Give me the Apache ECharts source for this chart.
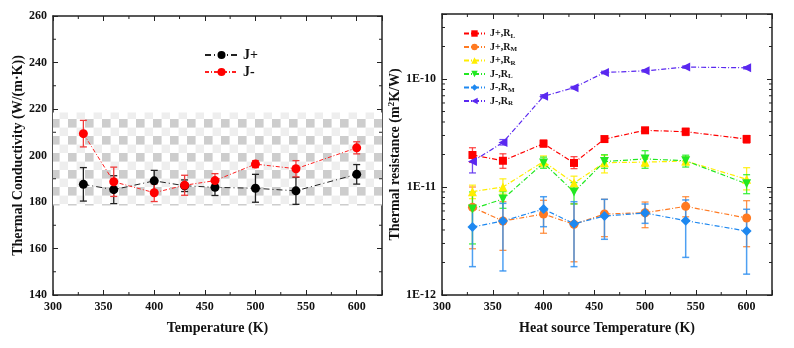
<!DOCTYPE html>
<html>
<head>
<meta charset="utf-8">
<script src="https://cdn.jsdelivr.net/npm/echarts@6/dist/echarts.min.js"></script>
<style>
  html, body { margin: 0; padding: 0; background: #fff; }
  #chart { width: 794px; height: 348px; }
</style>
</head>
<body>
<div id="chart"></div>
<script>
// ---- Thermal conductivity (left panel) ----
const temps = [330, 360, 400, 430, 460, 500, 540, 600];
const kPlus = [187.6, 185.3, 189.1, 187.0, 186.3, 185.9, 184.8, 191.9];
const kPlusErr = [7.2, 6.0, 4.5, 2.5, 3.5, 6.0, 5.8, 4.2];
const kMinus = [209.4, 188.7, 184.0, 187.2, 189.2, 196.3, 194.3, 203.3];
const kMinusErr = [5.7, 6.3, 3.8, 4.3, 3.0, 1.5, 3.5, 2.6];
const bandRange = [178.5, 218.5];

// ---- Thermal resistance (right panel), values with lower / upper bounds ----
const rPlusL = [1.98e-11, 1.75e-11, 2.52e-11, 1.67e-11, 2.78e-11, 3.35e-11, 3.25e-11, 2.78e-11];
const rPlusLLo = [1.69e-11, 1.49e-11, 2.35e-11, 1.48e-11, 2.65e-11, 3.2e-11, 3.0e-11, 2.55e-11];
const rPlusLHi = [2.31e-11, 2.03e-11, 2.72e-11, 1.91e-11, 2.92e-11, 3.5e-11, 3.5e-11, 3.0e-11];

const rPlusM = [6.5e-12, 4.84e-12, 5.62e-12, 4.51e-12, 5.62e-12, 5.78e-12, 6.62e-12, 5.16e-12];
const rPlusMLo = [2.68e-12, 2.59e-12, 3.73e-12, 2.03e-12, 3.47e-12, 4.2e-12, 5.3e-12, 2.8e-12];
const rPlusMHi = [1.0e-11, 7.31e-12, 7.53e-12, 7.0e-12, 7.69e-12, 7.26e-12, 8.13e-12, 7.47e-12];

const rPlusR = [9.06e-12, 1.0e-11, 1.72e-11, 1.09e-11, 1.68e-11, 1.7e-11, 1.74e-11, 1.18e-11];
const rPlusRLo = [7.8e-12, 8.6e-12, 1.54e-11, 9.4e-12, 1.35e-11, 1.55e-11, 1.6e-11, 9.4e-12];
const rPlusRHi = [1.04e-11, 1.19e-11, 1.94e-11, 1.26e-11, 1.97e-11, 1.85e-11, 1.9e-11, 1.51e-11];

const rMinusL = [6.25e-12, 7.74e-12, 1.67e-11, 9.0e-12, 1.72e-11, 1.82e-11, 1.75e-11, 1.07e-11];
const rMinusLLo = [2.97e-12, 6.35e-12, 1.49e-11, 6.96e-12, 1.49e-11, 1.49e-11, 1.53e-11, 8.67e-12];
const rMinusLHi = [9.0e-12, 9.06e-12, 1.89e-11, 1.1e-11, 1.99e-11, 2.17e-11, 1.97e-11, 1.3e-11];

const rMinusM = [4.26e-12, 4.84e-12, 6.25e-12, 4.57e-12, 5.39e-12, 5.74e-12, 4.88e-12, 3.91e-12];
const rMinusMLo = [1.83e-12, 1.67e-12, 4.29e-12, 1.83e-12, 3.28e-12, 4.61e-12, 2.23e-12, 1.56e-12];
const rMinusMHi = [6.81e-12, 7.06e-12, 8.13e-12, 7.31e-12, 7.69e-12, 6.96e-12, 7.59e-12, 6.22e-12];

const rMinusR = [1.72e-11, 2.59e-11, 6.92e-11, 8.32e-11, 1.15e-10, 1.19e-10, 1.29e-10, 1.27e-10];
const rMinusRLo = [1.35e-11, 2.45e-11, 6.7e-11, 8.1e-11, 1.12e-10, 1.16e-10, 1.26e-10, 1.24e-10];
const rMinusRHi = [2.08e-11, 2.75e-11, 7.15e-11, 8.55e-11, 1.18e-10, 1.22e-10, 1.32e-10, 1.3e-10];

// ---- Axis ticks ----
const xMinorTicks = [325, 375, 425, 475, 525, 575];
const kMinorTicks = [150, 170, 190, 210, 230, 250];
const rMinorTicks = [
  2e-12, 3e-12, 4e-12, 5e-12, 6e-12, 7e-12, 8e-12, 9e-12,
  2e-11, 3e-11, 4e-11, 5e-11, 6e-11, 7e-11, 8e-11, 9e-11,
  2e-10, 3e-10
];

const FONT = 'Liberation Serif';
const AXIS_COLOR = '#222';

function pairs(xs, ys) { return xs.map((x, i) => [x, ys[i]]); }
function bounds(xs, ys, lo, hi) { return xs.map((x, i) => [x, lo[i], hi[i]]); }
function symBounds(xs, ys, err) { return xs.map((x, i) => [x, ys[i] - err[i], ys[i] + err[i]]); }

// Checkerboard fill for the highlighted band
function checkerPattern() {
  const c = document.createElement('canvas');
  const s = 8.6;
  c.width = Math.round(s * 2); c.height = Math.round(s * 2);
  const g = c.getContext('2d');
  g.fillStyle = '#ffffff'; g.fillRect(0, 0, c.width, c.height);
  g.fillStyle = '#cdcdcd'; g.fillRect(0, 0, s, s);
  g.fillStyle = '#eeeeee'; g.fillRect(s, s, s, s);
  return { image: c, repeat: 'repeat' };
}

function errorBarSeries(name, data, color, xi, yi, cap, width, opacity) {
  return {
    type: 'custom', name: name, xAxisIndex: xi, yAxisIndex: yi, z: 2, silent: true,
    renderItem: function (params, api) {
      const x = api.value(0);
      const lo = api.coord([x, api.value(1)]);
      const hi = api.coord([x, api.value(2)]);
      const st = { stroke: color, lineWidth: width, opacity: opacity };
      return {
        type: 'group', children: [
          { type: 'line', shape: { x1: lo[0], y1: lo[1], x2: hi[0], y2: hi[1] }, style: st },
          { type: 'line', shape: { x1: lo[0] - cap, y1: lo[1], x2: lo[0] + cap, y2: lo[1] }, style: st },
          { type: 'line', shape: { x1: hi[0] - cap, y1: hi[1], x2: hi[0] + cap, y2: hi[1] }, style: st }
        ]
      };
    },
    data: data
  };
}

// Minor tick marks drawn on all four sides of a grid
function minorTickSeries(xTicks, yTicks, xi, yi, xRef, yRef) {
  const data = xTicks.map(v => [v, yRef, 0]).concat(yTicks.map(v => [xRef, v, 1]));
  return {
    type: 'custom', xAxisIndex: xi, yAxisIndex: yi, silent: true, z: 5, clip: false,
    renderItem: function (params, api) {
      const cs = params.coordSys;
      const len = 3;
      const st = { stroke: AXIS_COLOR, lineWidth: 1 };
      if (api.value(2) === 0) {
        const px = api.coord([api.value(0), yRef])[0];
        return { type: 'group', children: [
          { type: 'line', shape: { x1: px, y1: cs.y + cs.height, x2: px, y2: cs.y + cs.height - len }, style: st },
          { type: 'line', shape: { x1: px, y1: cs.y, x2: px, y2: cs.y + len }, style: st }
        ] };
      }
      const py = api.coord([xRef, api.value(1)])[1];
      return { type: 'group', children: [
        { type: 'line', shape: { x1: cs.x, y1: py, x2: cs.x + len, y2: py }, style: st },
        { type: 'line', shape: { x1: cs.x + cs.width, y1: py, x2: cs.x + cs.width - len, y2: py }, style: st }
      ] };
    },
    data: data
  };
}

const tickLabel = { color: '#111', fontFamily: FONT, fontWeight: 'bold', fontSize: 12 };
const nameStyle = { color: '#111', fontFamily: FONT, fontWeight: 'bold', fontSize: 14 };

function xAxisDef(gi, pos, mirror, title) {
  return {
    type: 'value', gridIndex: gi, position: pos, min: 300, max: 625, interval: 50,
    name: mirror ? '' : title, nameLocation: 'middle', nameGap: 26, nameTextStyle: nameStyle,
    axisLine: { show: true, onZero: false, lineStyle: { color: AXIS_COLOR, width: 1.5 } },
    axisTick: { show: true, inside: true, length: 5, lineStyle: { color: AXIS_COLOR, width: 1 } },
    axisLabel: mirror ? { show: false } : Object.assign({
      margin: 6, formatter: v => (v % 50 === 0 && v <= 600) ? String(v) : ''
    }, tickLabel),
    splitLine: { show: false }
  };
}

function decadeLabel(v) {
  const e = Math.log10(v);
  const r = Math.round(e);
  return Math.abs(e - r) < 1e-6 ? '1E' + r : '';
}

const lineType = [5, 2, 1, 2];

const option = {
  animation: false,
  backgroundColor: '#fff',
  textStyle: { fontFamily: FONT },
  grid: [
    { left: 53, right: 412, top: 16, bottom: 53 },
    { left: 442, right: 22, top: 14, bottom: 53 }
  ],
  xAxis: [
    xAxisDef(0, 'bottom', false, 'Temperature (K)'),
    xAxisDef(0, 'top', true),
    xAxisDef(1, 'bottom', false, 'Heat source Temperature (K)'),
    xAxisDef(1, 'top', true)
  ],
  yAxis: [
    {
      type: 'value', gridIndex: 0, position: 'left', min: 140, max: 260, interval: 20,
      name: 'Thermal Conductivity (W/(m·K))', nameLocation: 'middle', nameGap: 23, nameTextStyle: nameStyle,
      axisLine: { show: true, onZero: false, lineStyle: { color: AXIS_COLOR, width: 1.5 } },
      axisTick: { show: true, inside: true, length: 5, lineStyle: { color: AXIS_COLOR } },
      axisLabel: Object.assign({ margin: 6 }, tickLabel),
      splitLine: { show: false }
    },
    {
      type: 'value', gridIndex: 0, position: 'right', min: 140, max: 260, interval: 20,
      axisLine: { show: true, onZero: false, lineStyle: { color: AXIS_COLOR, width: 1.5 } },
      axisTick: { show: true, inside: true, length: 5, lineStyle: { color: AXIS_COLOR } },
      axisLabel: { show: false }, splitLine: { show: false }
    },
    {
      type: 'log', logBase: 10, gridIndex: 1, position: 'left', min: 1e-12, max: 4e-10,
      name: 'Thermal resistance (m{sup|2}K/W)', nameLocation: 'middle', nameGap: 34,
      nameTextStyle: Object.assign({}, nameStyle, {
        rich: { sup: { fontFamily: FONT, fontWeight: 'bold', fontSize: 9, color: '#111', padding: [0, 0, 7, 0] } }
      }),
      axisLine: { show: true, onZero: false, lineStyle: { color: AXIS_COLOR, width: 1.5 } },
      axisTick: { show: true, inside: true, length: 5, lineStyle: { color: AXIS_COLOR } },
      axisLabel: Object.assign({ margin: 6, formatter: decadeLabel }, tickLabel),
      splitLine: { show: false }
    },
    {
      type: 'log', logBase: 10, gridIndex: 1, position: 'right', min: 1e-12, max: 4e-10,
      axisLine: { show: true, onZero: false, lineStyle: { color: AXIS_COLOR, width: 1.5 } },
      axisTick: { show: true, inside: true, length: 5, lineStyle: { color: AXIS_COLOR } },
      axisLabel: { show: false }, splitLine: { show: false }
    }
  ],
  legend: [
    {
      data: ['J+', 'J-'], orient: 'vertical', left: 199, top: 43,
      itemWidth: 33, itemHeight: 10, itemGap: 3,
      textStyle: { fontFamily: FONT, fontWeight: 'bold', fontSize: 14, color: '#111' }
    },
    {
      data: ['J+,RL', 'J+,RM', 'J+,RR', 'J-,RL', 'J-,RM', 'J-,RR'],
      orient: 'vertical', left: 458, top: 23,
      itemWidth: 21, itemHeight: 8, itemGap: 2,
      formatter: n => n.slice(0, n.length - 1) + '{s|' + n.slice(-1) + '}',
      textStyle: {
        fontFamily: FONT, fontWeight: 'bold', fontSize: 10, color: '#111', lineHeight: 11,
        rich: { s: { fontFamily: FONT, fontWeight: 'bold', fontSize: 7, color: '#111', padding: [5, 0, 0, 0] } }
      }
    }
  ],
  series: [
    // highlighted band behind the conductivity data
    {
      type: 'line', name: 'band', xAxisIndex: 0, yAxisIndex: 0, data: [], z: 0, silent: true,
      markArea: {
        silent: true, itemStyle: { color: checkerPattern(), opacity: 1 },
        data: [[{ yAxis: bandRange[0] }, { yAxis: bandRange[1] }]]
      }
    },
    errorBarSeries('errJplus', symBounds(temps, kPlus, kPlusErr), '#222', 0, 0, 3.5, 1.3, 1),
    errorBarSeries('errJminus', symBounds(temps, kMinus, kMinusErr), '#f03a3a', 0, 0, 3.5, 1.3, 1),
    {
      type: 'line', name: 'J+', xAxisIndex: 0, yAxisIndex: 0, data: pairs(temps, kPlus), z: 3,
      symbol: 'circle', symbolSize: 9, color: '#000',
      lineStyle: { color: '#222', width: 1, type: [6, 3, 1, 3] }, itemStyle: { color: '#000' }
    },
    {
      type: 'line', name: 'J-', xAxisIndex: 0, yAxisIndex: 0, data: pairs(temps, kMinus), z: 3,
      symbol: 'circle', symbolSize: 9, color: '#ff0000',
      lineStyle: { color: '#ff2020', width: 1, type: [4, 2, 1, 2] }, itemStyle: { color: '#ff0000' }
    },
    minorTickSeries(xMinorTicks, kMinorTicks, 0, 0, 300, 140),

    // thermal resistance error bars
    errorBarSeries('eRPL', bounds(temps, rPlusL, rPlusLLo, rPlusLHi), '#ff2a2a', 2, 2, 3.5, 1.3, 0.85),
    errorBarSeries('eRPM', bounds(temps, rPlusM, rPlusMLo, rPlusMHi), '#ff7f27', 2, 2, 3.5, 1.3, 0.85),
    errorBarSeries('eRPR', bounds(temps, rPlusR, rPlusRLo, rPlusRHi), '#ffee00', 2, 2, 3.5, 1.3, 0.85),
    errorBarSeries('eRML', bounds(temps, rMinusL, rMinusLLo, rMinusLHi), '#22ee22', 2, 2, 3.5, 1.3, 0.85),
    errorBarSeries('eRMM', bounds(temps, rMinusM, rMinusMLo, rMinusMHi), '#2f8ff0', 2, 2, 3.5, 1.5, 0.85),
    errorBarSeries('eRMR', bounds(temps, rMinusR, rMinusRLo, rMinusRHi), '#5a2df0', 2, 2, 3.5, 1.3, 0.85),

    {
      type: 'line', name: 'J+,RL', xAxisIndex: 2, yAxisIndex: 2, data: pairs(temps, rPlusL), z: 3,
      symbol: 'rect', symbolSize: 8, color: '#ff0000',
      lineStyle: { width: 1.2, type: lineType }
    },
    {
      type: 'line', name: 'J+,RM', xAxisIndex: 2, yAxisIndex: 2, data: pairs(temps, rPlusM), z: 3,
      symbol: 'circle', symbolSize: 9, color: '#ff7a22',
      lineStyle: { width: 1.2, type: lineType }
    },
    {
      type: 'line', name: 'J+,RR', xAxisIndex: 2, yAxisIndex: 2, data: pairs(temps, rPlusR), z: 3,
      symbol: 'triangle', symbolSize: 9, color: '#ffee00',
      lineStyle: { width: 1.2, type: lineType }
    },
    {
      type: 'line', name: 'J-,RL', xAxisIndex: 2, yAxisIndex: 2, data: pairs(temps, rMinusL), z: 3,
      symbol: 'triangle', symbolRotate: 180, symbolSize: 9, color: '#22e822',
      lineStyle: { width: 1.2, type: lineType }
    },
    {
      type: 'line', name: 'J-,RM', xAxisIndex: 2, yAxisIndex: 2, data: pairs(temps, rMinusM), z: 3,
      symbol: 'diamond', symbolSize: 10, color: '#1e88f0',
      lineStyle: { width: 1.2, type: lineType }
    },
    {
      type: 'line', name: 'J-,RR', xAxisIndex: 2, yAxisIndex: 2, data: pairs(temps, rMinusR), z: 3,
      symbol: 'triangle', symbolRotate: 90, symbolSize: 9, color: '#5a28f0',
      lineStyle: { width: 1.2, type: lineType }
    },
    minorTickSeries(xMinorTicks, rMinorTicks, 2, 2, 300, 1e-12)
  ]
};

const chart = echarts.init(document.getElementById('chart'), null, { renderer: 'canvas' });
chart.setOption(option);
</script>
</body>
</html>
